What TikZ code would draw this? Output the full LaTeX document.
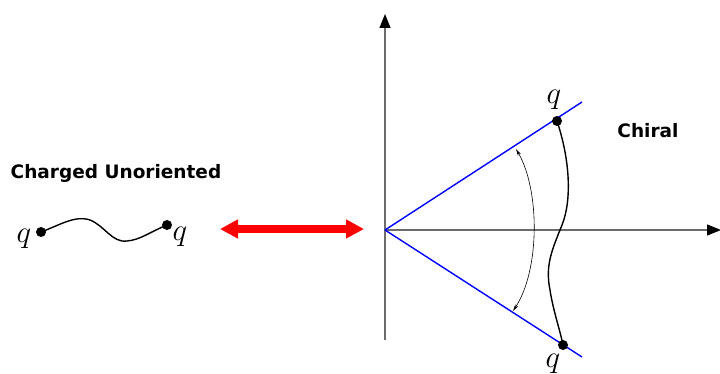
\RequirePackage{fix-cm}
\documentclass[tikz,border=0pt]{standalone}
\usepackage{fontspec}
\newfontfamily\labfont{DejaVu Sans}
\usetikzlibrary{arrows.meta}
\begin{document}
\begin{tikzpicture}[x=1pt,y=-1pt,
  axis/.style={draw=gray!85!black,line width=1.2pt,-{Triangle[length=14pt,width=11pt,color=black]}},
  chargedot/.style={circle,fill=black,inner sep=0pt,minimum size=10pt},
  qlab/.style={font=\fontsize{31}{31}\selectfont},
  title/.style={font=\labfont\bfseries\fontsize{18.5}{20}\selectfont},
  blueline/.style={draw=blue,line width=1.4pt},
  stringline/.style={draw=black,line width=1.4pt}]
\useasboundingbox (0,0) rectangle (720,374);
% axes
\coordinate (O) at (385,230);
\coordinate (ybot) at (385,340);
\coordinate (ytop) at (385,14);
\coordinate (xend) at (721,230);
\draw[axis] (ybot) -- (ytop);
\draw[axis] (O) -- (xend);
% blue lines
\coordinate (bu) at (582,102);
\coordinate (bl) at (582,357);
\draw[blueline] (O) -- (bu);
\draw[blueline] (O) -- (bl);
% chiral string
\node[chargedot] (cq1) at (557,121) {};
\node[chargedot] (cq2) at (563,345) {};
\draw[stringline] (cq1.center) .. controls (570,160) and (572,200) .. (562,225)
  .. controls (552,250) and (545,265) .. (550,290) .. controls (553,310) and (560,330) .. (cq2.center);
\node[qlab] (q3) at (554,100) {$q$};
\node[qlab] (q4) at (553,364) {$q$};
% angle arc
\coordinate (au) at (516,149);
\coordinate (al) at (513,311);
\draw[line width=0.6pt,{Stealth[length=7pt,width=3.5pt]}-{Stealth[length=7pt,width=3.5pt]}] (au) .. controls (540,190) and (540,270) .. (al);
\node[title] (chiral) at (648,131) {Chiral};
% left
\node[title] (cu) at (116,173) {Charged Unoriented};
\node[chargedot] (lq1) at (41,232) {};
\node[chargedot] (lq2) at (167,225) {};
\draw[stringline] (lq1.center) .. controls (60,225) and (75,215) .. (90,220)
  .. controls (105,226) and (112,243) .. (127,241) .. controls (140,240) and (150,232) .. (lq2.center);
\node[qlab] (q1) at (24,239) {$q$};
\node[qlab] (q2) at (180,237) {$q$};
% red double arrow
\coordinate (ra) at (220,229);
\coordinate (rb) at (364,229);
\draw[red,line width=7pt,{Triangle[length=18pt,width=18pt]}-{Triangle[length=18pt,width=18pt]}] (ra) -- (rb);
\end{tikzpicture}
\end{document}
